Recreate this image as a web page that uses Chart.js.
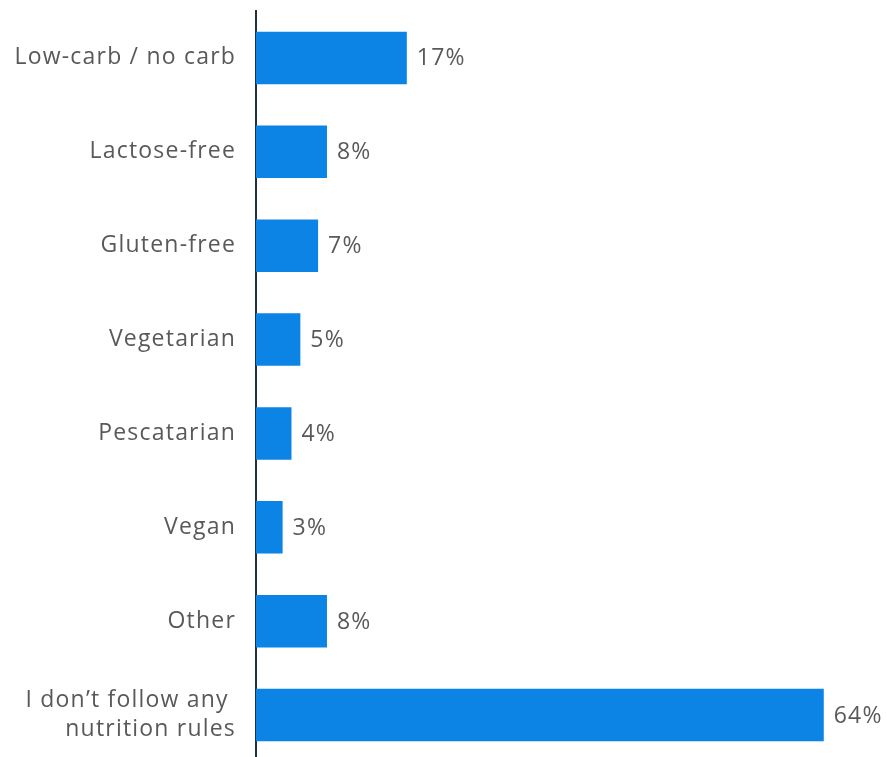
<!DOCTYPE html>
<html>
<head>
<meta charset="utf-8">
<script src="https://cdn.jsdelivr.net/npm/chart.js@4/dist/chart.umd.min.js"></script>
<style>
    html, body { margin: 0; padding: 0; background: #fff; overflow: hidden; }
    #wrap { position: relative; width: 887px; height: 762px; }
</style>
</head>
<body>
<div id="wrap"><canvas id="dietChart"></canvas></div>
<script>
const categories = [
    'Low-carb / no carb',
    'Lactose-free',
    'Gluten-free',
    'Vegetarian',
    'Pescatarian',
    'Vegan',
    'Other',
    ['I don\u2019t follow any ', 'nutrition rules']
];
const shares = [17, 8, 7, 5, 4, 3, 8, 64];

const textColor = '#595959';
const barColor = '#0b84e5';
const spacing = '1.2px';
const labelFont = { family: '"Open Sans", sans-serif', size: 23, lineHeight: 1.25 };

// spaced-out lettering for every text on the canvas
const letterSpacing = {
    id: 'letterSpacing',
    beforeDraw(chart) {
        chart.ctx.letterSpacing = spacing;
    }
};

// percentage next to the end of each bar
const valueLabels = {
    id: 'valueLabels',
    afterDatasetsDraw(chart) {
        const ctx = chart.ctx;
        const meta = chart.getDatasetMeta(0);
        ctx.save();
        ctx.letterSpacing = spacing;
        ctx.font = labelFont.size + 'px ' + labelFont.family;
        ctx.fillStyle = textColor;
        ctx.textAlign = 'left';
        ctx.textBaseline = 'middle';
        meta.data.forEach((bar, i) => {
            ctx.fillText(shares[i] + '%', bar.x + 10, bar.y + 1);
        });
        ctx.restore();
    }
};

const ctx = document.getElementById('dietChart').getContext('2d');
new Chart(ctx, {
    type: 'bar',
    data: {
        labels: categories,
        datasets: [{
            data: shares,
            backgroundColor: barColor,
            categoryPercentage: 1,
            barPercentage: 0.56
        }]
    },
    plugins: [letterSpacing, valueLabels],
    options: {
        indexAxis: 'y',
        responsive: true,
        maintainAspectRatio: false,
        animation: false,
        layout: {
            padding: { top: 11, right: 10, bottom: 0, left: 0 }
        },
        plugins: {
            legend: { display: false },
            tooltip: { enabled: false }
        },
        scales: {
            x: {
                display: false,
                min: 0,
                max: 70
            },
            y: {
                afterFit(scale) {
                    scale.width = 256;
                    // the axis line runs the full height, no room kept for labels
                    scale.paddingTop = 0;
                    scale.paddingBottom = 0;
                },
                grid: {
                    display: false,
                    drawTicks: false
                },
                border: {
                    display: true,
                    color: '#1e3045',
                    width: 2
                },
                ticks: {
                    color: textColor,
                    font: labelFont,
                    padding: 20,
                    autoSkip: false
                }
            }
        }
    }
});
</script>
</body>
</html>
